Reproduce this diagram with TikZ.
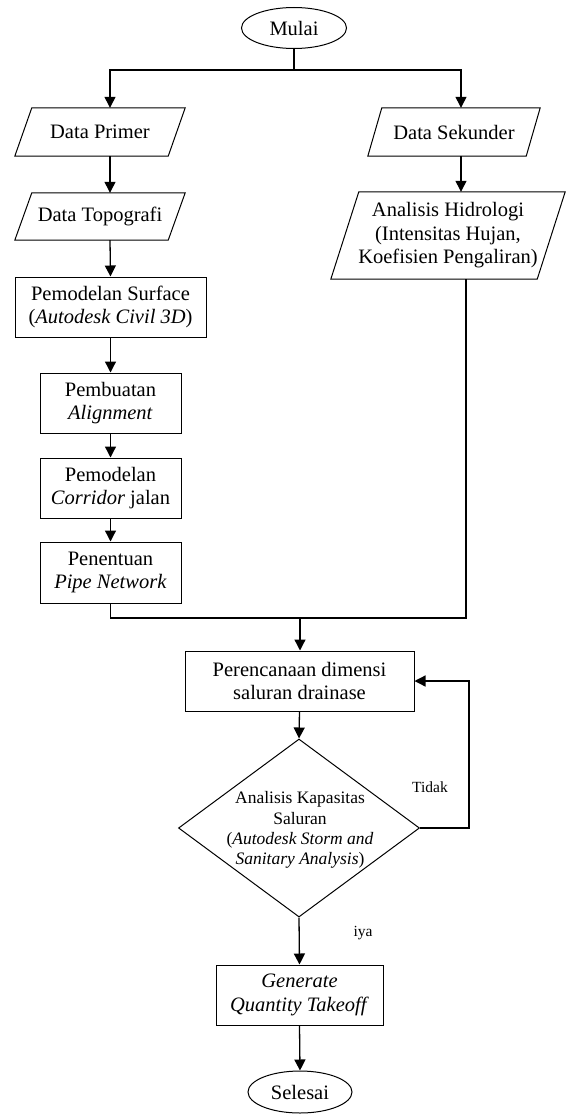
\documentclass[tikz,border=0pt]{standalone}
\usepackage{fontspec}
\setmainfont{Liberation Serif}
\usetikzlibrary{shapes.geometric,arrows.meta,calc}
\newcommand\pgram[2]{\draw[shapeline] (#1.south west) -- ([xshift=-#2pt]#1.south east) -- (#1.north east) -- ([xshift=#2pt]#1.north west) -- cycle;}
\begin{document}
\begin{tikzpicture}[x=1pt,y=-1pt,
  shapeline/.style={line width=1pt},
  box/.style={draw, shapeline, rectangle, align=center, inner sep=0pt, font=\fontsize{20.5}{23.5}\selectfont},
  para/.style={rectangle, align=center, inner sep=0pt, font=\fontsize{20.5}{23.5}\selectfont},
  ell/.style={draw, shapeline, ellipse, inner sep=0pt, font=\fontsize{20.5}{23.5}\selectfont},
  dtxt/.style={align=center, inner sep=0pt, font=\fontsize{17.5}{20.2}\selectfont},
  lbl/.style={inner sep=0pt, font=\fontsize{15.5}{18}\selectfont},
  conn/.style={line width=1.3pt},
  arr/.style={conn, -{Triangle[length=11pt,width=11pt]}}
]
\useasboundingbox (0,0) rectangle (566,1116);

% nodes
\node[ell, minimum width=105pt, minimum height=41pt] (mulai) at (294,28) {Mulai};
\node[para, minimum width=170pt, minimum height=48pt] (dp) at (100,132) {Data Primer};
\node[para, minimum width=170pt, minimum height=47pt] (dt) at (100,216.5) {Data Topografi};
\node[box, minimum width=191pt, minimum height=60pt] (surf) at (110.5,307) {Pemodelan Surface\\(\textit{Autodesk Civil 3D})};
\node[box, minimum width=141pt, minimum height=60pt] (align) at (110.5,403) {Pembuatan\\\textit{Alignment}};
\node[box, minimum width=141pt, minimum height=60pt] (corr) at (110.5,488) {Pemodelan\\\textit{Corridor} jalan};
\node[box, minimum width=141pt, minimum height=61pt] (pipe) at (110.5,572.5) {Penentuan\\\textit{Pipe Network}};
\node[para, minimum width=172pt, minimum height=48pt] (ds) at (454,132) {Data Sekunder};
\node[para, minimum width=234pt, minimum height=87pt] (hid) at (448,235.5) {Analisis Hidrologi\\(Intensitas Hujan,\\Koefisien Pengaliran)};
\node[box, minimum width=229pt, minimum height=60pt] (plan) at (299.5,681) {Perencanaan dimensi\\saluran drainase};
\node[draw, shapeline, diamond, minimum width=241pt, minimum height=178pt, inner sep=0pt] (dec) at (299,828) {};
\node[dtxt] (dect) at (300,830) {Analisis Kapasitas\\Saluran\\(\textit{Autodesk Storm and}\\\textit{Sanitary Analysis})};
\node[box, minimum width=167pt, minimum height=60pt] (gen) at (299.5,995) {\textit{Generate}\\\textit{Quantity Takeoff}};
\node[ell, minimum width=104pt, minimum height=42pt] (sel) at (300,1092) {Selesai};
\node[lbl] (tidak) at (430,787) {Tidak};
\node[lbl] (iya) at (363,933) {iya};

% parallelogram outlines
\pgram{dp}{17}
\pgram{dt}{17}
\pgram{ds}{14}
\pgram{hid}{28}

% connectors
\coordinate (j1) at (294,70);
\draw[conn] (mulai.south) -- (j1);
\draw[arr] (j1) -| ([xshift=10pt]dp.north);
\draw[arr] (j1) -| ([xshift=7pt]ds.north);
\draw[arr] ([xshift=10pt]dp.south) -- ([xshift=10pt]dt.north);
\draw[arr] ([xshift=10pt]dt.south) -- (surf.north);
\draw[arr] (surf.south) -- (align.north);
\draw[arr] (align.south) -- (corr.north);
\draw[arr] (corr.south) -- (pipe.north);
\draw[arr] ([xshift=7pt]ds.south) -- ([xshift=13pt]hid.north);
\coordinate (j2) at (300,618);
\draw[conn] (pipe.south) |- ([xshift=18pt]hid.south |- j2) -- ([xshift=18pt]hid.south);
\draw[arr] (j2) -- (j2 |- plan.north);
\draw[arr] (plan.south) -- (dec.north);
\coordinate (j3) at (469,828);
\draw[arr] (dec.east) -- (j3) |- (plan.east);
\draw[arr] (dec.south) -- (gen.north);
\draw[arr] (gen.south) -- (sel.north);
\end{tikzpicture}
\end{document}
